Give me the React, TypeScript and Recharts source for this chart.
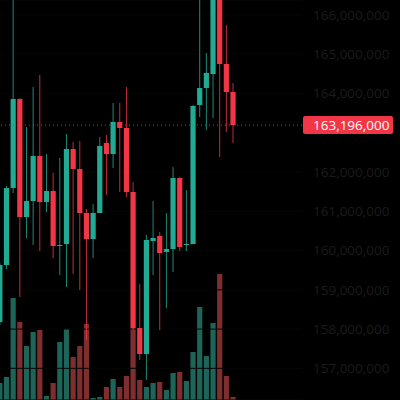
// Candles + volume, dark theme, recharts.

import { Bar, BarChart, CartesianGrid, ReferenceLine, XAxis, YAxis } from "recharts";

const UP = "#22ab94";
const DOWN = "#f23645";
const UP_VOL = "#1d6459";
const DOWN_VOL = "#7e2e2e";

// prices in thousands
const opens = [158180, 159632, 161593, 163860, 160855, 161262, 162408, 161237, 161517, 160116, 160167, 162587, 162077, 160957, 160294, 160957, 162740, 162459, 163275, 163122, 161492, 158027, 157365, 160243, 160371, 159963, 160040, 161848, 160142, 160167, 163708, 164141, 164497, 166600, 164752, 164039];
const highs = [159683, 161644, 166450, 163880, 163147, 164166, 164472, 162459, 161975, 162358, 162969, 162765, 162791, 161059, 161186, 162892, 162943, 163758, 163758, 164166, 161746, 159148, 160396, 161262, 160473, 160957, 162128, 161870, 161542, 163708, 166500, 165032, 166700, 166800, 165745, 164268];
const lows = [158104, 159530, 161466, 158817, 160320, 160142, 159989, 160982, 159810, 159377, 159072, 159403, 158995, 157722, 159810, 160957, 161415, 162103, 161492, 161364, 157977, 157212, 156703, 159377, 157977, 158537, 159454, 159989, 159989, 160167, 163402, 163071, 163376, 162383, 163020, 162740];
const closes = [159632, 161593, 163860, 160855, 161262, 162408, 161237, 161517, 160116, 160142, 162587, 162077, 160957, 160294, 160957, 162663, 162459, 163275, 163122, 161492, 158027, 157365, 160269, 160320, 159938, 160040, 161848, 160091, 160167, 163682, 164141, 164523, 166650, 164752, 164039, 163196];
const volumes = [17, 23, 102, 78, 54, 68, 70, 4, 17, 58, 71, 43, 54, 76, 2, 3, 13, 21, 13, 24, 72, 20, 13, 17, 18, 10, 27, 28, 19, 48, 93, 44, 77, 126, 24, 3];

// 163,000,000 sits under the last-price tag, so it is not drawn
const priceTicks = [157, 158, 159, 160, 161, 162, 164, 165, 166].map((m) => m * 1000000);
const lastPrice = 163196000;

const rows = opens.map((o, i) => ({
	i,
	open: o * 1000,
	high: highs[i] * 1000,
	low: lows[i] * 1000,
	close: closes[i] * 1000,
	volume: volumes[i] * 1000,
}));

const xDomain: [number, number] = [0.05, 45.38];

function Candle(props: any) {
	const { x, y, width, height, payload } = props;
	const up = payload.close >= payload.open;
	const color = up ? UP : DOWN;
	const top = Math.min(y, y + height);
	const h = Math.abs(height);
	const ratio = h / (payload.high - payload.low || 1);
	const cx = x + width / 2;
	const bTop = top + (payload.high - Math.max(payload.open, payload.close)) * ratio;
	const bBot = top + (payload.high - Math.min(payload.open, payload.close)) * ratio;
	return (
		<g>
			<line x1={cx} x2={cx} y1={top} y2={top + h} stroke={color} strokeWidth={1} strokeOpacity={0.8} />
			<rect x={cx - 2.6} y={bTop} width={5.2} height={Math.max(bBot - bTop, 1)} fill={color} />
		</g>
	);
}

function VolBar(props: any) {
	const { x, y, width, height, payload } = props;
	const up = payload.close >= payload.open;
	const cx = x + width / 2;
	return <rect x={cx - 2.6} y={y} width={5.2} height={height} fill={up ? UP_VOL : DOWN_VOL} />;
}

function PriceTag(props: any) {
	const { viewBox } = props;
	const x = viewBox.x + viewBox.width + 1;
	const y = viewBox.y;
	return (
		<g>
			<rect x={x} y={y - 9} width={90} height={18} rx={2} fill={DOWN} />
			<text x={x + 10} y={y + 1} fill="#fff" fontSize={13.5} fontFamily="Open Sans" dominantBaseline="middle">
				{lastPrice.toLocaleString("en-US")}
			</text>
		</g>
	);
}

export default function App() {
	return (
		<div style={{ position: "fixed", left: 0, top: 0, width: 400, height: 400, background: "#000", overflow: "hidden" }}>
			<div style={{ position: "absolute", left: 0, top: 0 }}>
				<BarChart width={400} height={400} data={rows} margin={{ top: 0, right: 98, bottom: 0, left: 0 }}>
					<XAxis dataKey="i" type="number" domain={xDomain} allowDataOverflow hide />
					<YAxis yAxisId="vol" domain={[0, 400000]} hide />
					<Bar yAxisId="vol" dataKey="volume" barSize={5} shape={<VolBar />} isAnimationActive={false} />
				</BarChart>
			</div>
			<div style={{ position: "absolute", left: 0, top: 0 }}>
				<BarChart width={400} height={400} data={rows} margin={{ top: 0, right: 0, bottom: 0, left: 0 }}>
					<CartesianGrid vertical={false} stroke="#060606" />
					<XAxis dataKey="i" type="number" domain={xDomain} allowDataOverflow hide />
					<YAxis
						orientation="right"
						width={98}
						domain={[156194000, 166382000]}
						allowDataOverflow
						ticks={priceTicks}
						tickFormatter={(v: number) => v.toLocaleString("en-US")}
						tick={{ fill: "#1b1b1b", fontSize: 13.5, fontFamily: "Open Sans" }}
						axisLine={false}
						tickLine={false}
						tickMargin={5}
					/>
					<ReferenceLine y={lastPrice} stroke={DOWN} strokeOpacity={0.8} strokeDasharray="1 3" label={<PriceTag />} />
					<Bar dataKey={(d: any) => [d.low, d.high]} barSize={5} shape={<Candle />} isAnimationActive={false} />
				</BarChart>
			</div>
		</div>
	);
}
